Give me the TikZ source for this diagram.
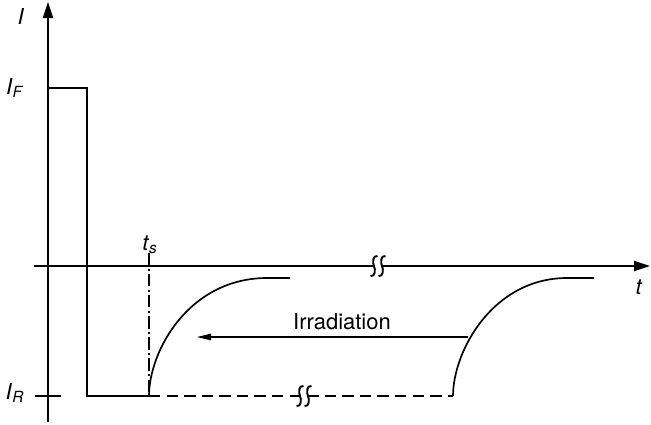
\documentclass[tikz,border=0pt]{standalone}
\usepackage{fontspec}
\setmainfont{TeX Gyre Heros}
\usetikzlibrary{arrows.meta, positioning, calc}

\begin{document}
\begin{tikzpicture}[
  x=0.02cm, y=-0.02cm,
  font=\fontsize{12.5}{15}\selectfont,
  axis/.style={line width=1.1pt, -{Triangle[length=3.2mm, width=2mm]}},
  curve/.style={line width=0.95pt},
  thinarr/.style={line width=0.6pt, -{Triangle[length=2.8mm, width=1.3mm]}},
  brk/.pic={
    \fill[white] (-3,-4) rectangle (3,4);
    \foreach \cx in {-4,4}
      \draw[line width=1.1pt, solid] (\cx+3.5,-10) .. controls (\cx-1.5,-11) and (\cx-1.5,-3) .. (\cx,0)
        .. controls (\cx+1.5,3) and (\cx+1.5,11) .. (\cx-3.5,10);
  }
]
\useasboundingbox (0,0) rectangle (651,424);
% axes
\coordinate (ybot) at (48,422);
\coordinate (ytop) at (48,2);
\coordinate (xleft) at (34,266);
\coordinate (xright) at (650,266);
\draw[axis] (ybot) -- (ytop);
\draw[axis] (xleft) -- (xright);
\pic at (378,266) {brk};
\draw[line width=0.8pt] (35,396) -- (61,396);
% current
\coordinate (fwd) at (48,88);
\coordinate (ts) at (149,396);
\coordinate (tend) at (453,396);
\draw[curve] (fwd) -- (87,88) -- (87,396) -- (ts);
\draw[curve, dash pattern=on 6.5pt off 3.5pt] (ts) -- (tend);
\pic at (304,396) {brk};
\draw[line width=0.6pt, dash pattern=on 7pt off 2pt on 1pt off 2pt] (149,253) -- (ts);
\draw[curve] (ts) .. controls (149,351) and (189,278) .. (267,278) -- (290,278);
\draw[curve] (tend) .. controls (453,351) and (493,278) .. (567,278) -- (594,278);
% irradiation
\coordinate (irr) at (468,337);
\coordinate (irrtip) at (197,337);
\draw[thinarr] (irr) -- (irrtip);
\node[anchor=base] (irrlbl) at (342,329) {Irradiation};
% labels
\node (Ilbl) at (21,16) {\textit{I}};
\node (IFlbl) at (15,88) {\textit{I}\textsubscript{\textit{F}}};
\node (IRlbl) at (15,393) {\textit{I}\textsubscript{\textit{R}}};
\node (tslbl) at (150,245) {\textit{t}\textsubscript{\textit{s}}};
\node (tlbl) at (639,287) {\textit{t}};
\end{tikzpicture}
\end{document}
